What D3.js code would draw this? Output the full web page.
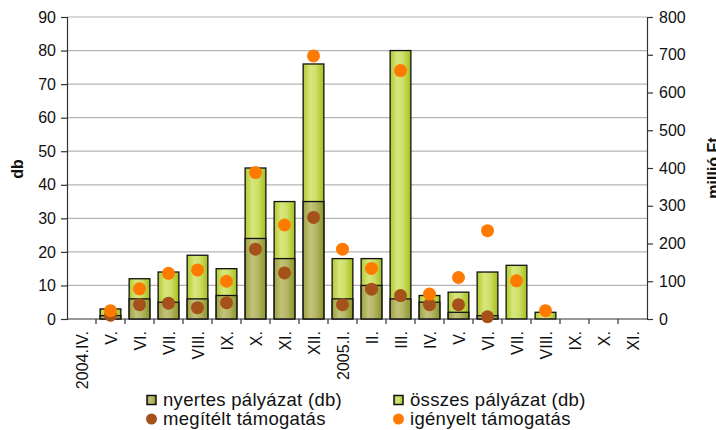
<!DOCTYPE html>
<html>
<head>
<meta charset="utf-8">
<script src="https://cdn.jsdelivr.net/npm/d3@7"></script>
<style>
html,body{margin:0;padding:0;background:#fff;}
svg{display:block;font-family:"Liberation Sans",Arial,sans-serif;}
</style>
</head>
<body>
<svg id="chart" width="716" height="430"></svg>
<script>
const categories = ["2004.IV.","V.","VI.","VII.","VIII.","IX.","X.","XI.","XII.","2005.I.","II.","III.","IV.","V.","VI.","VII.","VIII.","IX.","X.","XI."];
const osszes =   [0, 3, 12, 14, 19, 15, 45, 35, 76, 18, 18, 80, 7, 8, 14, 16, 2, 0, 0, 0];
const nyertes =  [0, 1, 6, 5, 6, 7, 24, 18, 35, 6, 10, 6, 5, 2, 1, 0, 0, 0, 0, 0];
const igenyelt = [null, 22, 80, 121, 130, 100, 388, 249, 697, 185, 134, 658, 66, 110, 234, 101, 22, null, null, null];
const megitelt = [null, 10, 38, 42, 30, 43, 185, 122, 269, 38, 79, 62, 38, 38, 6, null, null, null, null, null];
const leftTicks = [0,10,20,30,40,50,60,70,80,90];
const rightTicks = [0,100,200,300,400,500,600,700,800];

const svg = d3.select("#chart");
const X0 = 67, X1 = 647, Y0 = 319, Y1 = 17;

const x = d3.scaleBand().domain(d3.range(categories.length)).range([X0, X1]).paddingInner(0.285).paddingOuter(0.1425);
const xb = d3.scaleBand().domain(d3.range(categories.length)).range([X0, X1]);
const yL = d3.scaleLinear().domain([0, 90]).range([Y0, Y1]);
const yR = d3.scaleLinear().domain([0, 800]).range([Y0, Y1]);

const defs = svg.append("defs");
function grad(id, stops) {
  const g = defs.append("linearGradient").attr("id", id).attr("x1", "0%").attr("x2", "100%").attr("y1", "0%").attr("y2", "0%");
  stops.forEach(s => g.append("stop").attr("offset", s[0]).attr("stop-color", s[1]));
}
grad("gOsszes", [["0%", "#b3ca2c"], ["35%", "#d8e67e"], ["60%", "#cfe06a"], ["100%", "#a6bf1c"]]);
grad("gNyertes", [["0%", "#9ea23e"], ["35%", "#c3c27c"], ["60%", "#b6b768"], ["100%", "#8a9626"]]);

// gridlines
svg.append("g").selectAll("line").data(leftTicks.filter(t => t > 0)).join("line")
  .attr("x1", X0).attr("x2", X1).attr("y1", d => yL(d)).attr("y2", d => yL(d))
  .attr("stroke", "#b4b4b4").attr("stroke-width", 1.2);

// bars
svg.append("g").selectAll("rect").data(osszes.map((v, i) => ({v, i})).filter(d => d.v > 0)).join("rect")
  .attr("x", d => x(d.i)).attr("width", x.bandwidth())
  .attr("y", d => yL(d.v)).attr("height", d => yL(0) - yL(d.v))
  .attr("fill", "url(#gOsszes)").attr("stroke", "#111").attr("stroke-width", 1.3);
svg.append("g").selectAll("rect").data(nyertes.map((v, i) => ({v, i})).filter(d => d.v > 0)).join("rect")
  .attr("x", d => x(d.i)).attr("width", x.bandwidth())
  .attr("y", d => yL(d.v)).attr("height", d => yL(0) - yL(d.v))
  .attr("fill", "url(#gNyertes)").attr("stroke", "#111").attr("stroke-width", 1.3);

// axes
const axL = svg.append("g").attr("transform", `translate(${X0},0)`)
  .call(d3.axisLeft(yL).tickValues(leftTicks).tickSize(6).tickPadding(5));
const axR = svg.append("g").attr("transform", `translate(${X1},0)`)
  .call(d3.axisRight(yR).tickValues(rightTicks).tickSize(6).tickPadding(6));
[axL, axR].forEach(a => {
  a.select(".domain").attr("stroke", "#333").attr("stroke-width", 1.2);
  a.selectAll(".tick line").attr("stroke", "#333").attr("stroke-width", 1.2);
  a.selectAll("text").attr("font-size", 16).attr("fill", "#111").attr("font-family", "Liberation Sans, Arial, sans-serif");
});
svg.append("line").attr("x1", X0).attr("x2", X1).attr("y1", Y0).attr("y2", Y0).attr("stroke", "#333").attr("stroke-width", 1.2);
// category boundary ticks
svg.append("g").selectAll("line").data(d3.range(1, categories.length)).join("line")
  .attr("x1", d => xb(d)).attr("x2", d => xb(d)).attr("y1", Y0).attr("y2", Y0 + 5)
  .attr("stroke", "#333").attr("stroke-width", 1.2);
// category labels
svg.append("g").selectAll("text").data(categories).join("text")
  .attr("transform", (d, i) => `translate(${xb(i) + xb.bandwidth() / 2 + 6},${Y0 + 12}) rotate(-90)`)
  .attr("text-anchor", "end").attr("font-size", 16).attr("fill", "#111")
  .text(d => d);

// dots
svg.append("g").selectAll("circle").data(megitelt.map((v, i) => ({v, i})).filter(d => d.v !== null)).join("circle")
  .attr("cx", d => x(d.i) + x.bandwidth() / 2).attr("cy", d => yR(d.v)).attr("r", 6.5)
  .attr("fill", "#a5511a");
svg.append("g").selectAll("circle").data(igenyelt.map((v, i) => ({v, i})).filter(d => d.v !== null)).join("circle")
  .attr("cx", d => x(d.i) + x.bandwidth() / 2).attr("cy", d => yR(d.v)).attr("r", 6.5)
  .attr("fill", "#ff7a00");

// axis titles
svg.append("text").attr("transform", "translate(23,169) rotate(-90)").attr("text-anchor", "middle")
  .attr("font-size", 16).attr("font-weight", "bold").attr("fill", "#111").text("db");
svg.append("text").attr("transform", "translate(719,168) rotate(-90)").attr("text-anchor", "middle")
  .attr("font-size", 16).attr("font-weight", "bold").attr("fill", "#111").text("millió Ft");

// legend
const legend = [
  {label: "nyertes pályázat (db)", type: "rect", fill: "url(#gNyertes)", x: 147, y: 400},
  {label: "összes pályázat (db)", type: "rect", fill: "url(#gOsszes)", x: 394, y: 400},
  {label: "megítélt támogatás", type: "circle", fill: "#a5511a", x: 147, y: 419},
  {label: "igényelt támogatás", type: "circle", fill: "#ff7a00", x: 394, y: 419}
];
const lg = svg.append("g").selectAll("g").data(legend).join("g").attr("transform", d => `translate(${d.x},${d.y})`);
lg.filter(d => d.type === "rect").append("rect").attr("x", 0).attr("y", -4.5).attr("width", 9).attr("height", 9)
  .attr("fill", d => d.fill).attr("stroke", "#111").attr("stroke-width", 1.5);
lg.filter(d => d.type === "circle").append("circle").attr("cx", 4.5).attr("cy", 0).attr("r", 5.5).attr("fill", d => d.fill);
lg.append("text").attr("x", 16).attr("y", 6).attr("font-size", 18.5).attr("letter-spacing", 0.3).attr("fill", "#111").text(d => d.label);
</script>
</body>
</html>
